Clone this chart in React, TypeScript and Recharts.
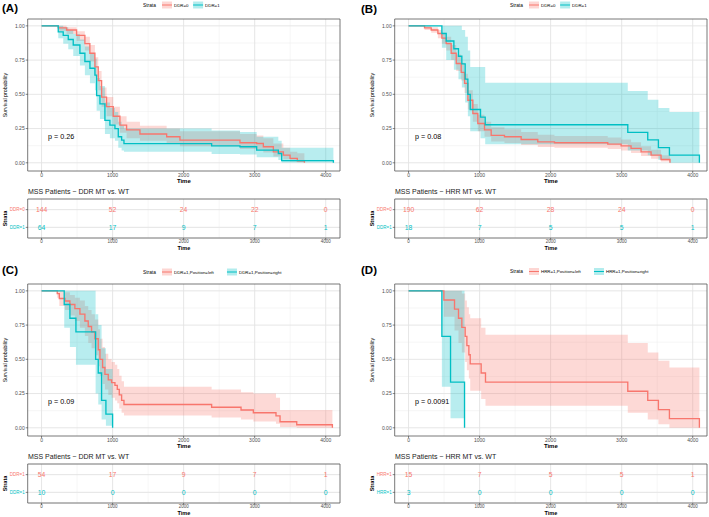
import React from "react";
import {
  ComposedChart,
  ScatterChart,
  Scatter,
  Line,
  Area,
  XAxis,
  YAxis,
  CartesianGrid,
  ReferenceArea,
} from "recharts";

type Pt = [number, number, number, number];

const RED = "#F8766D";
const TEAL = "#00BFC4";
const FONT = "'Liberation Sans', Arial, sans-serif";

const timeTicks = [0, 1000, 2000, 3000, 4000];
const timeMinor = [500, 1500, 2500, 3500];
const survTicks = [0, 0.25, 0.5, 0.75, 1];
const survMinor = [0.125, 0.375, 0.625, 0.875];

const X_DOMAIN = [-195, 4201];
const Y_DOMAIN = [-0.06, 1.05];

// [time, survival, lower CI, upper CI]
const ddrWt: Pt[] = [
  [0, 1, 1, 1], [235, 0.985, 0.965, 1], [352, 0.97, 0.94, 0.99], [493, 0.93, 0.89, 0.96],
  [610, 0.87, 0.82, 0.92], [680, 0.8, 0.74, 0.86], [751, 0.7, 0.63, 0.77], [798, 0.6, 0.53, 0.67],
  [845, 0.48, 0.41, 0.55], [915, 0.41, 0.34, 0.48], [1009, 0.34, 0.28, 0.41], [1103, 0.275, 0.22, 0.34],
  [1197, 0.24, 0.18, 0.3], [1385, 0.21, 0.16, 0.27], [1761, 0.19, 0.14, 0.25], [1948, 0.165, 0.12, 0.23],
  [2793, 0.146, 0.1, 0.21], [3028, 0.141, 0.095, 0.2], [3122, 0.117, 0.075, 0.18], [3263, 0.08, 0.045, 0.14],
  [3404, 0.056, 0.025, 0.11], [3498, 0.032, 0.01, 0.08], [3600, 0.015, 0.003, 0.07], [3700, 0, 0, 0],
];
const ddrMt: Pt[] = [
  [0, 1, 1, 1], [235, 0.956, 0.91, 1], [305, 0.93, 0.87, 0.99], [376, 0.9, 0.83, 0.97],
  [446, 0.86, 0.78, 0.94], [540, 0.8, 0.71, 0.9], [610, 0.74, 0.64, 0.85], [681, 0.69, 0.58, 0.8],
  [751, 0.64, 0.53, 0.76], [775, 0.49, 0.38, 0.62], [822, 0.43, 0.32, 0.56], [892, 0.31, 0.21, 0.44],
  [962, 0.275, 0.18, 0.4], [1033, 0.25, 0.16, 0.37], [1080, 0.19, 0.11, 0.3], [1127, 0.165, 0.09, 0.27],
  [1160, 0.14, 0.08, 0.25], [2394, 0.124, 0.065, 0.235], [2793, 0.117, 0.06, 0.225], [3028, 0.092, 0.04, 0.19],
  [3333, 0.068, 0.02, 0.16], [3380, 0.016, 0.002, 0.11], [4108, 0, 0, 0],
];

const hrrWt: Pt[] = [
  [0, 1, 1, 1], [225, 0.985, 0.97, 1], [319, 0.97, 0.95, 0.99], [413, 0.944, 0.91, 0.97],
  [469, 0.91, 0.87, 0.95], [530, 0.87, 0.82, 0.92], [600, 0.8, 0.75, 0.86], [671, 0.725, 0.67, 0.79],
  [741, 0.66, 0.6, 0.73], [788, 0.58, 0.51, 0.65], [835, 0.457, 0.39, 0.53], [905, 0.36, 0.3, 0.43],
  [975, 0.287, 0.23, 0.35], [1069, 0.24, 0.19, 0.3], [1163, 0.2, 0.155, 0.26], [1350, 0.19, 0.145, 0.245],
  [1585, 0.17, 0.13, 0.225], [1819, 0.153, 0.115, 0.205], [2054, 0.146, 0.11, 0.195], [2804, 0.136, 0.1, 0.185],
  [2992, 0.124, 0.09, 0.17], [3132, 0.105, 0.072, 0.15], [3273, 0.08, 0.05, 0.12], [3414, 0.056, 0.03, 0.095],
  [3554, 0.024, 0.01, 0.055], [3680, 0, 0, 0],
];
const hrrMt: Pt[] = [
  [0, 1, 1, 1], [469, 0.944, 0.84, 1], [530, 0.889, 0.75, 1], [638, 0.833, 0.68, 1],
  [703, 0.778, 0.61, 1], [750, 0.722, 0.55, 0.97], [797, 0.611, 0.44, 0.92], [835, 0.5, 0.34, 0.82],
  [868, 0.389, 0.23, 0.7], [1013, 0.333, 0.18, 0.7], [1079, 0.278, 0.135, 0.584], [3086, 0.222, 0.09, 0.525],
  [3367, 0.167, 0.055, 0.46], [3517, 0.111, 0.02, 0.4], [3672, 0.056, 0, 0.37], [4094, 0, 0, 0],
];

const ddrLeft: Pt[] = [
  [0, 1, 1, 1], [221, 0.98, 0.95, 1], [250, 0.944, 0.89, 1], [329, 0.926, 0.86, 0.99],
  [399, 0.9, 0.82, 0.97], [469, 0.87, 0.78, 0.95], [540, 0.83, 0.73, 0.93], [610, 0.78, 0.67, 0.89],
  [657, 0.74, 0.62, 0.86], [704, 0.7, 0.58, 0.83], [751, 0.65, 0.53, 0.79], [798, 0.57, 0.45, 0.72],
  [822, 0.5, 0.38, 0.65], [859, 0.44, 0.32, 0.59], [892, 0.39, 0.28, 0.54], [939, 0.35, 0.24, 0.5],
  [986, 0.33, 0.22, 0.48], [1033, 0.31, 0.2, 0.46], [1066, 0.28, 0.18, 0.43], [1094, 0.24, 0.14, 0.38],
  [1127, 0.2, 0.11, 0.34], [1160, 0.17, 0.09, 0.3], [2394, 0.15, 0.075, 0.28], [2808, 0.13, 0.06, 0.26],
  [2981, 0.11, 0.045, 0.25], [3300, 0.087, 0.03, 0.22], [3357, 0.044, 0.005, 0.13], [3592, 0.022, 0, 0.13],
  [4094, 0, 0, 0],
];
const ddrRight: Pt[] = [
  [0, 1, 1, 1], [319, 0.9, 0.73, 1], [399, 0.8, 0.59, 1], [484, 0.7, 0.46, 1],
  [761, 0.5, 0.25, 0.83], [798, 0.4, 0.17, 0.75], [845, 0.2, 0.06, 0.58], [906, 0.1, 0.015, 0.43],
  [1000, 0, 0, 0],
];

const hrrLeft: Pt[] = [
  [0, 1, 1, 1], [497, 0.933, 0.81, 1], [647, 0.867, 0.71, 1], [703, 0.8, 0.62, 1],
  [750, 0.733, 0.55, 0.98], [797, 0.667, 0.48, 0.93], [821, 0.6, 0.42, 0.88], [849, 0.533, 0.36, 0.83],
  [868, 0.467, 0.27, 0.8], [1022, 0.4, 0.21, 0.73], [1083, 0.333, 0.16, 0.68], [3086, 0.267, 0.11, 0.62],
  [3367, 0.2, 0.06, 0.55], [3517, 0.133, 0.025, 0.49], [3672, 0.067, 0, 0.44], [4094, 0, 0, 0],
];
const hrrRight: Pt[] = [
  [0, 1, 1, 1], [469, 0.667, 0.3, 1], [591, 0.333, 0.07, 1], [788, 0, 0, 0],
];

// numbers at risk at timeTicks
const riskDdrWt = [144, 52, 24, 22, 0];
const riskDdrMt = [64, 17, 9, 7, 1];
const riskHrrWt = [190, 62, 28, 24, 0];
const riskHrrMt = [18, 7, 5, 5, 1];
const riskDdrLeft = [54, 17, 9, 7, 1];
const riskDdrRight = [10, 0, 0, 0, 0];
const riskHrrLeft = [15, 7, 5, 5, 1];
const riskHrrRight = [3, 0, 0, 0, 0];

const panels = [
  {
    tag: "(A)", left: 0, top: 0, tagX: 2, tagY: 8, legY: 5,
    legend: ["DDR=0", "DDR=1"], rows: ["DDR=0", "DDR=1"],
    curves: [ddrWt, ddrMt], risk: [riskDdrWt, riskDdrMt],
    p: "p = 0.26", title: "MSS Patients \u2212 DDR MT vs. WT",
  },
  {
    tag: "(B)", left: 367, top: 0, tagX: -6, tagY: 8.5, legY: 5,
    legend: ["DDR=0", "DDR=1"], rows: ["DDR=0", "DDR=1"],
    curves: [hrrWt, hrrMt], risk: [riskHrrWt, riskHrrMt],
    p: "p = 0.08", title: "MSS Patients \u2212 HRR MT vs. WT",
  },
  {
    tag: "(C)", left: 0, top: 265, tagX: 2, tagY: 4.5, legY: 7,
    legend: ["DDR=1,Position=left", "DDR=1,Position=right"], rows: ["DDR=1", "DDR=1"],
    curves: [ddrLeft, ddrRight], risk: [riskDdrLeft, riskDdrRight],
    p: "p = 0.09", title: "MSS Patients \u2212 DDR MT vs. WT",
  },
  {
    tag: "(D)", left: 367, top: 265, tagX: -6, tagY: 5, legY: 6.5,
    legend: ["HRR=1,Position=left", "HRR=1,Position=right"], rows: ["HRR=1", "HRR=1"],
    curves: [hrrLeft, hrrRight], risk: [riskHrrLeft, riskHrrRight],
    p: "p = 0.0091", title: "MSS Patients \u2212 HRR MT vs. WT",
  },
];

const COLORS = [RED, TEAL];
const W = 342;

function toRows(curve: Pt[]) {
  return curve.map(([time, surv, lo, hi]) => ({ time, surv, band: [lo, hi] }));
}

function KmChart({ curves }: { curves: Pt[][] }) {
  const tick = { fontSize: 5, fill: "#4D4D4D" };
  const tickLine = { stroke: "#333", strokeWidth: 0.6 };
  return (
    <ComposedChart width={W} height={184} margin={{ top: 19, right: 2, bottom: 0, left: 0 }}>
      <CartesianGrid stroke="#EDEDED" strokeWidth={0.5} verticalValues={timeMinor} horizontalValues={survMinor} />
      <CartesianGrid stroke="#E3E3E3" strokeWidth={0.9} verticalValues={timeTicks} horizontalValues={survTicks} />
      <XAxis
        type="number"
        dataKey="time"
        domain={X_DOMAIN}
        ticks={timeTicks}
        interval={0}
        allowDataOverflow
        height={13}
        tickSize={2}
        tickMargin={0}
        axisLine={false}
        tick={tick}
        tickLine={tickLine}
      />
      <YAxis
        type="number"
        domain={Y_DOMAIN}
        ticks={survTicks}
        interval={0}
        allowDataOverflow
        tickFormatter={(v: number) => v.toFixed(2)}
        width={27.7}
        tickSize={2}
        tickMargin={1}
        axisLine={false}
        tick={tick}
        tickLine={tickLine}
      />
      {curves.map((c, i) => (
        <Area
          key={"band" + i}
          data={toRows(c)}
          dataKey="band"
          type="stepAfter"
          stroke="none"
          fill={COLORS[i]}
          fillOpacity={0.28}
          isAnimationActive={false}
        />
      ))}
      {curves.map((c, i) => (
        <Line
          key={"line" + i}
          data={toRows(c)}
          dataKey="surv"
          type="stepAfter"
          stroke={COLORS[i]}
          strokeWidth={1.35}
          dot={false}
          activeDot={false}
          isAnimationActive={false}
        />
      ))}
      <ReferenceArea
        x1={X_DOMAIN[0]}
        x2={X_DOMAIN[1]}
        y1={Y_DOMAIN[0]}
        y2={Y_DOMAIN[1]}
        fill="none"
        stroke="#555"
        strokeWidth={0.8}
        ifOverflow="visible"
      />
    </ComposedChart>
  );
}

function RiskTable({ risk, rows }: { risk: number[][]; rows: string[] }) {
  const tickLine = { stroke: "#333", strokeWidth: 0.6 };
  const series = risk.map((vals, i) =>
    vals.map((n, j) => ({ time: timeTicks[j], row: 2 - i, n }))
  );
  return (
    <ScatterChart width={W} height={56} margin={{ top: 4, right: 2, bottom: 0, left: 0 }}>
      <CartesianGrid stroke="#EDEDED" strokeWidth={0.5} verticalValues={timeMinor} horizontalValues={[]} />
      <CartesianGrid stroke="#E3E3E3" strokeWidth={0.9} verticalValues={timeTicks} horizontalValues={[1, 2]} />
      <XAxis
        type="number"
        dataKey="time"
        domain={X_DOMAIN}
        ticks={timeTicks}
        interval={0}
        allowDataOverflow
        height={13}
        tickSize={2}
        tickMargin={0}
        axisLine={false}
        tick={{ fontSize: 4.5, fill: "#4D4D4D" }}
        tickLine={tickLine}
      />
      <YAxis
        type="number"
        dataKey="row"
        domain={[0.4, 2.6]}
        ticks={[1, 2]}
        interval={0}
        allowDataOverflow
        width={27.7}
        tickSize={2}
        tickMargin={1}
        axisLine={false}
        tickLine={tickLine}
        tick={(p: any) => (
          <text
            x={p.x}
            y={p.y}
            textAnchor="end"
            dominantBaseline="central"
            fontSize={4.5}
            fill={p.payload.value === 2 ? RED : TEAL}
          >
            {rows[2 - p.payload.value]}
          </text>
        )}
      />
      {series.map((d, i) => (
        <Scatter
          key={i}
          data={d}
          isAnimationActive={false}
          shape={(p: any) => (
            <text
              x={p.cx}
              y={p.cy}
              textAnchor="middle"
              dominantBaseline="central"
              fontSize={6.8}
              fill={COLORS[i]}
            >
              {p.payload.n}
            </text>
          )}
        />
      ))}
      <ReferenceArea
        x1={X_DOMAIN[0]}
        x2={X_DOMAIN[1]}
        y1={0.4}
        y2={2.6}
        fill="none"
        stroke="#555"
        strokeWidth={0.8}
        ifOverflow="visible"
      />
    </ScatterChart>
  );
}

function Overlay({ panel }: { panel: (typeof panels)[number] }) {
  const charW = 2.42;
  const key1 = 162;
  const text1 = key1 + 12;
  const key2 = text1 + panel.legend[0].length * charW + 7;
  const text2 = key2 + 12;
  const ly = panel.legY;
  const keys = [key1, key2];
  const plotMid = (27.7 + 340) / 2;
  return (
    <svg
      width={W}
      height={252}
      style={{ position: "absolute", left: 0, top: 0, overflow: "visible", pointerEvents: "none" }}
    >
      <text x={panel.tagX} y={panel.tagY} fontSize={11.5} fontWeight="bold" dominantBaseline="central" fill="#000">
        {panel.tag}
      </text>
      <text x={143} y={ly} fontSize={4.8} dominantBaseline="central" fill="#000">Strata</text>
      {keys.map((kx, i) => (
        <g key={i}>
          <rect x={kx} y={ly - 3.5} width={10} height={7} fill={COLORS[i]} fillOpacity={0.3} />
          <line x1={kx} x2={kx + 10} y1={ly} y2={ly} stroke={COLORS[i]} strokeWidth={1} />
        </g>
      ))}
      <text x={text1} y={ly} fontSize={4.4} dominantBaseline="central" fill="#000">{panel.legend[0]}</text>
      <text x={text2} y={ly} fontSize={4.4} dominantBaseline="central" fill="#000">{panel.legend[1]}</text>
      <text
        x={5}
        y={95}
        fontSize={5.3}
        textAnchor="middle"
        dominantBaseline="central"
        transform="rotate(-90 5 95)"
        fill="#000"
      >
        Survival probability
      </text>
      <text x={plotMid} y={181} fontSize={6} fontWeight="bold" textAnchor="middle" dominantBaseline="central" fill="#000">
        Time
      </text>
      <text x={48} y={136.5} fontSize={7.2} dominantBaseline="central" fill="#000">{panel.p}</text>
      <text x={28} y={191.5} fontSize={7} dominantBaseline="central" fill="#222">{panel.title}</text>
      <text
        x={5}
        y={218.5}
        fontSize={5.5}
        fontWeight="bold"
        textAnchor="middle"
        dominantBaseline="central"
        transform="rotate(-90 5 218.5)"
        fill="#000"
      >
        Strata
      </text>
      <text x={plotMid} y={248} fontSize={5.5} fontWeight="bold" textAnchor="middle" dominantBaseline="central" fill="#000">
        Time
      </text>
    </svg>
  );
}

export default function App() {
  return (
    <div
      style={{
        position: "absolute",
        left: 0,
        top: 0,
        width: 709,
        height: 517,
        background: "#fff",
        fontFamily: FONT,
      }}
    >
      {panels.map((panel) => (
        <div
          key={panel.tag}
          style={{ position: "absolute", left: panel.left, top: panel.top, width: W, height: 252 }}
        >
          <div style={{ position: "absolute", left: 0, top: 0 }}>
            <KmChart curves={panel.curves} />
          </div>
          <div style={{ position: "absolute", left: 0, top: 195 }}>
            <RiskTable risk={panel.risk} rows={panel.rows} />
          </div>
          <Overlay panel={panel} />
        </div>
      ))}
    </div>
  );
}
